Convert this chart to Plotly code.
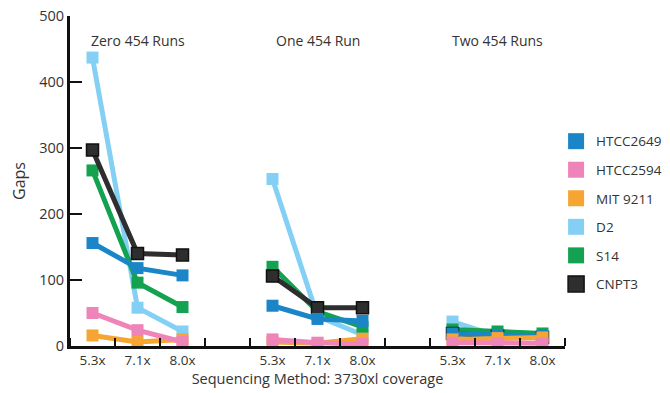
import plotly.graph_objects as go

coverage_labels = ["5.3x", "7.1x", "8.0x"]
group_labels = ["Zero 454 Runs", "One 454 Run", "Two 454 Runs"]
series_names = ["HTCC2649", "HTCC2594", "MIT 9211", "D2", "S14", "CNPT3"]

# values per group: [Zero 5.3,7.1,8.0, One 5.3,7.1,8.0, Two 5.3,7.1,8.0]
htcc2649 = [156, 118, 107, 61, 41, 38, 19, 17, 15]
htcc2594 = [50, 24, 6, 10, 5, 3, 5, 4, 4]
mit9211 = [16, 6, 10, 6, 4, 11, 10, 12, 13]
d2 = [437, 58, 22, 253, 45, 17, 37, 15, 12]
s14 = [266, 96, 59, 120, 52, 29, 25, 22, 19]
cnpt3 = [297, 140, 138, 106, 58, 58, 19, 15, 13]

values = {"HTCC2649": htcc2649, "HTCC2594": htcc2594, "MIT 9211": mit9211,
          "D2": d2, "S14": s14, "CNPT3": cnpt3}
colors = {"HTCC2649": "#1a86c8", "HTCC2594": "#ef84b9", "MIT 9211": "#f6a532",
          "D2": "#84d0f4", "S14": "#12a250", "CNPT3": "#2e2e2e"}
draw_order = ["D2", "S14", "CNPT3", "HTCC2649", "MIT 9211", "HTCC2594"]

GROUP_STEP = 4
xpos = [g * GROUP_STEP + i for g in range(3) for i in range(3)]
sep_ticks = [k + 0.5 for k in range(-1, 11)]

def with_gaps(seq):
    out = []
    for g in range(3):
        out += list(seq[g * 3:(g + 1) * 3])
        if g < 2:
            out.append(None)
    return out

FONT = "Open Sans"
AXIS = "#111111"
fig = go.Figure()
for name in draw_order:
    c = colors[name]
    outline = dict(color="#111111", width=1.5) if name == "CNPT3" else dict(width=0)
    fig.add_trace(go.Scatter(
        x=with_gaps(xpos), y=with_gaps(values[name]), mode="lines+markers",
        line=dict(color=c, width=5), marker=dict(symbol="square", size=12, color=c, line=outline),
        showlegend=False, hoverinfo="skip"))

for name in series_names:
    c = colors[name]
    outline = dict(color="#111111", width=1.5) if name == "CNPT3" else dict(width=0)
    fig.add_trace(go.Scatter(
        x=[None], y=[None], mode="markers", name=name, legendgroup=name,
        marker=dict(symbol="square", size=16, color=c, line=outline)))

for g, lab in enumerate(group_labels):
    fig.add_annotation(x=g * GROUP_STEP + 1, y=1.0, xref="x", yref="paper",
                       text=lab, showarrow=False, yanchor="middle", yshift=-24,
                       font=dict(family=FONT, size=14, color="#333333"))

fig.update_layout(
    width=670, height=393,
    margin=dict(l=70, r=105, t=16, b=47, autoexpand=False),
    plot_bgcolor="white", paper_bgcolor="white",
    font=dict(family=FONT, size=14, color="#333333"),
    xaxis=dict(range=[-0.5, 10.5], tickvals=xpos, ticktext=coverage_labels * 3,
               ticks="", showline=True, linecolor=AXIS, linewidth=3,
               showgrid=False, zeroline=False, automargin=False,
               minor=dict(tickvals=sep_ticks, ticks="inside", ticklen=8, tickwidth=2,
                          tickcolor=AXIS, showgrid=False),
               tickfont=dict(family=FONT, size=13.5, color="#333333"),
               title=dict(text="Sequencing Method: 3730xl coverage", standoff=2,
                          font=dict(family=FONT, size=14.5, color="#333333"))),
    yaxis=dict(range=[0, 500], tickvals=[0, 100, 200, 300, 400, 500],
               ticks="inside", ticklen=12, tickwidth=2, tickcolor=AXIS,
               showline=True, linecolor=AXIS, linewidth=3,
               showgrid=False, zeroline=False, automargin=False,
               tickfont=dict(family=FONT, size=14.5, color="#333333"),
               title=dict(text="Gaps", standoff=10, font=dict(family=FONT, size=16, color="#333333"))),
    legend=dict(x=0.982, xanchor="left", y=0.667, yanchor="top", tracegroupgap=8,
                font=dict(family=FONT, size=13.5, color="#333333"), itemwidth=30),
)

fig.write_html("out.html", config={"displayModeBar": False},
               post_script="document.body.style.margin='0';document.body.style.overflow='hidden';")
